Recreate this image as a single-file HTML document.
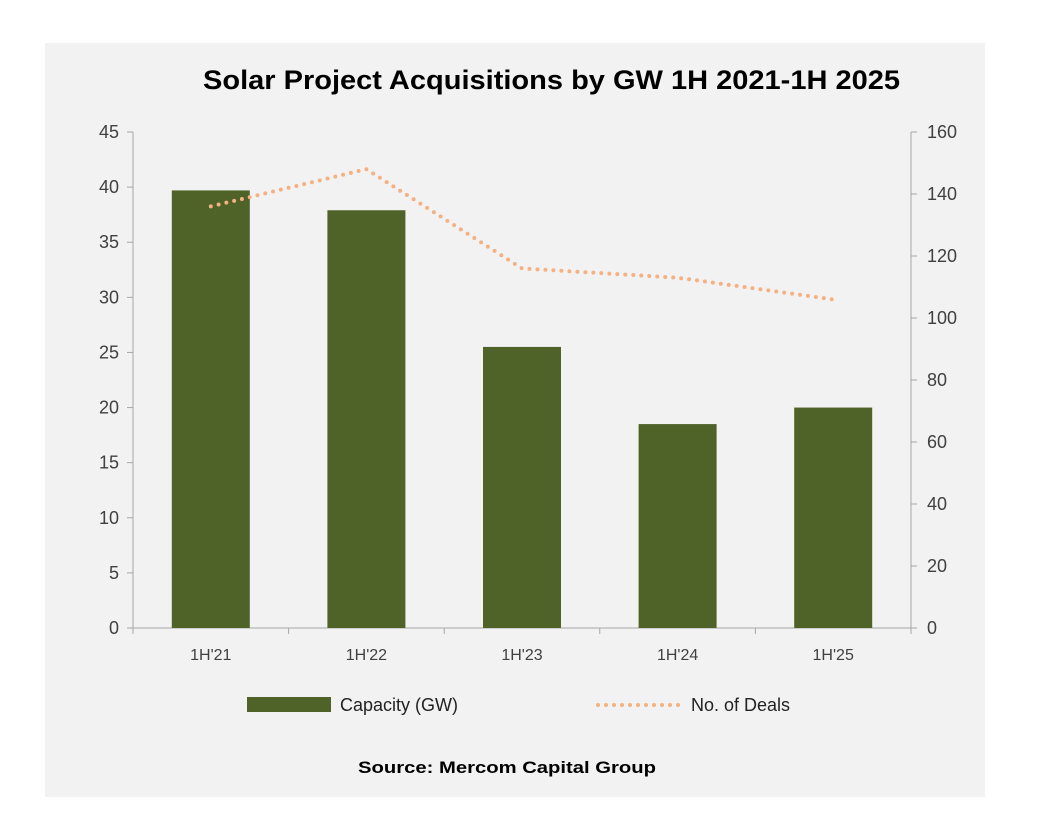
<!DOCTYPE html>
<html><head><meta charset="utf-8"><style>
body{margin:0;background:#fff;width:1037px;height:827px;overflow:hidden;font-family:"Liberation Sans",sans-serif}
svg text{font-family:"Liberation Sans",sans-serif}
</style></head><body>
<svg width="1037" height="827">
<rect x="45" y="43" width="940" height="754" fill="#f2f2f2"/>
<text x="203" y="89" font-size="27" font-weight="bold" fill="#000" textLength="697" lengthAdjust="spacingAndGlyphs">Solar Project Acquisitions by GW 1H 2021-1H 2025</text>
<g id="axes"></g><g id="bars"></g><g id="line"></g>
<g>
<rect x="247" y="697" width="84" height="15" fill="#4f6228"/>
<text x="340" y="711" font-size="18" fill="#222">Capacity (GW)</text>
<line x1="598" y1="705" x2="680" y2="705" stroke="#f4b183" stroke-width="4" stroke-dasharray="0 8" stroke-linecap="round"/>
<text x="691" y="711" font-size="18" fill="#222">No. of Deals</text>
</g>
<text x="358" y="773" font-size="17" font-weight="bold" fill="#000" textLength="298" lengthAdjust="spacingAndGlyphs">Source: Mercom Capital Group</text>
</svg>
<script>
const categories=["1H'21","1H'22","1H'23","1H'24","1H'25"];
const capacity=[39.7,37.9,25.5,18.5,20.0];
const deals=[136,148,116,113,106];
const leftTicks=[0,5,10,15,20,25,30,35,40,45];
const rightTicks=[0,20,40,60,80,100,120,140,160];
const NS="http://www.w3.org/2000/svg";
const X0=133,X1=911,Y0=628,Y1=132;
const yL=v=>Y0-(v/45)*(Y0-Y1);
const yR=v=>Y0-(v/160)*(Y0-Y1);
const bw=(X1-X0)/categories.length;
const xC=i=>X0+bw*(i+0.5);
function mk(t,a,p){const e=document.createElementNS(NS,t);for(const k in a)e.setAttribute(k,a[k]);p.appendChild(e);return e;}
const ax=document.getElementById('axes');
let e=mk('line',{x1:X0,y1:Y1,x2:X0,y2:Y0,stroke:'#a6a6a6'},ax);


e=mk('line',{x1:X1,y1:Y1,x2:X1,y2:Y0,stroke:'#a6a6a6'},ax);


e=mk('line',{x1:X0,y1:Y0,x2:X1,y2:Y0,stroke:'#a6a6a6'},ax);


leftTicks.forEach(v=>{const y=yL(v);mk('line',{x1:X0-6,y1:y,x2:X0,y2:y,stroke:'#a6a6a6'},ax);
const t=mk('text',{x:X0-14,y:y+6,'text-anchor':'end','font-size':18,fill:'#404040'},ax);t.textContent=v;

});
rightTicks.forEach(v=>{const y=yR(v);mk('line',{x1:X1,y1:y,x2:X1+6,y2:y,stroke:'#a6a6a6'},ax);
const t=mk('text',{x:X1+16,y:y+6,'font-size':18,fill:'#404040'},ax);t.textContent=v;

});
for(let i=0;i<=categories.length;i++){const x=X0+bw*i;mk('line',{x1:x,y1:Y0,x2:x,y2:Y0+6,stroke:'#a6a6a6'},ax);}
categories.forEach((c,i)=>{const t=mk('text',{x:xC(i),y:Y0+32,'text-anchor':'middle','font-size':16,fill:'#404040'},ax);t.textContent=c;

});
const bg=document.getElementById('bars');
capacity.forEach((v,i)=>{const r=mk('rect',{x:xC(i)-39,y:yL(v),width:78,height:Y0-yL(v),fill:'#4f6228'},bg);

});
const lg=document.getElementById('line');
const pl=mk('polyline',{points:deals.map((v,i)=>xC(i)+','+yR(v)).join(' '),fill:'none',stroke:'#f4b183','stroke-width':4,'stroke-dasharray':'0 8','stroke-linecap':'round'},lg);


</script>
</body></html>
